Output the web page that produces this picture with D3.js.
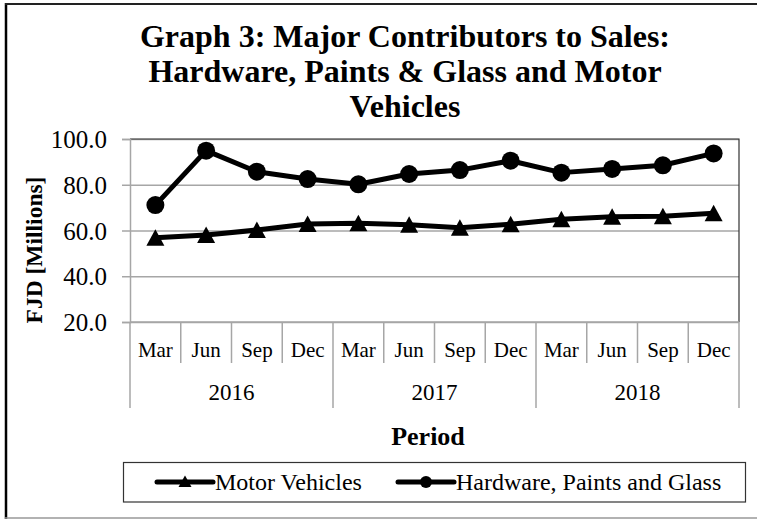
<!DOCTYPE html>
<html>
<head>
<meta charset="utf-8">
<script src="https://cdn.jsdelivr.net/npm/d3@7/dist/d3.min.js"></script>
<style>
  body { margin: 0; background: #fff; }
  text { font-family: "Liberation Serif", "Times New Roman", serif; fill: #000; }
</style>
</head>
<body>
<script>
// chart data
const months = ["Mar", "Jun", "Sep", "Dec"];
const years = ["2016", "2017", "2018"];
const motorVehicles = [56.8, 58.0, 60.2, 62.8, 63.2, 62.5, 61.2, 62.7, 64.9, 66.0, 66.2, 67.5];
const hardwarePaintsGlass = [71.1, 94.9, 85.7, 82.5, 80.2, 84.7, 86.4, 90.5, 85.3, 86.9, 88.5, 93.7];
const yTicks = [20, 40, 60, 80, 100];
const titleLines = ["Graph 3: Major Contributors to Sales:", "Hardware, Paints & Glass and Motor", "Vehicles"];

const W = 757, H = 520;
const plotL = 130, plotR = 739, plotT = 139, plotB = 322;

// period keys like "2016-Mar"
const periods = [];
years.forEach(yr => months.forEach(m => periods.push({ year: yr, month: m, key: yr + "-" + m })));

const series = [
  { name: "Motor Vehicles", values: motorVehicles, marker: "triangle" },
  { name: "Hardware, Paints and Glass", values: hardwarePaintsGlass, marker: "circle" }
];

const svg = d3.select("body").append("svg")
  .attr("width", W)
  .attr("height", H);

// outer frame
svg.append("line").attr("x1", 6).attr("x2", 6).attr("y1", 3).attr("y2", 519)
  .attr("stroke", "#000").attr("stroke-width", 2.5);
svg.append("line").attr("x1", 5).attr("x2", W).attr("y1", 4).attr("y2", 4)
  .attr("stroke", "#222").attr("stroke-width", 2);
svg.append("line").attr("x1", 5).attr("x2", W).attr("y1", 518).attr("y2", 518)
  .attr("stroke", "#999").attr("stroke-width", 1.5);

// title
svg.append("g").selectAll("text")
  .data(titleLines)
  .enter()
  .append("text")
  .attr("x", 405)
  .attr("y", (d, i) => 47 + i * 35)
  .attr("text-anchor", "middle")
  .style("font-size", "32px")
  .style("font-weight", "bold")
  .text(d => d);

const x = d3.scaleBand()
  .domain(periods.map(p => p.key))
  .range([plotL, plotR])
  .paddingInner(0)
  .paddingOuter(0);

const y = d3.scaleLinear()
  .domain([20, 100])
  .range([plotB, plotT]);

// gridlines
svg.append("g")
  .attr("transform", "translate(" + plotL + ",0)")
  .call(d3.axisLeft(y).tickValues(yTicks).tickSize(-(plotR - plotL)).tickFormat(""))
  .call(g => g.select(".domain").remove())
  .call(g => g.selectAll("line").attr("stroke", "#a6a6a6").attr("stroke-width", 1.5));

// plot area border (top & right)
svg.append("path")
  .attr("d", "M" + plotL + "," + plotT + "H" + plotR + "V" + plotB)
  .attr("fill", "none")
  .attr("stroke", "#333")
  .attr("stroke-width", 1.2);

// y axis
const yAxis = svg.append("g")
  .attr("transform", "translate(" + plotL + ",0)")
  .call(d3.axisLeft(y).tickValues(yTicks).tickSize(8).tickPadding(15).tickFormat(d3.format(".1f")));
yAxis.select(".domain").attr("stroke", "#a6a6a6").attr("stroke-width", 1.5);
yAxis.selectAll(".tick line").attr("stroke", "#a6a6a6").attr("stroke-width", 1.5);
yAxis.selectAll(".tick text")
  .attr("dy", "0.34em")
  .style("font-size", "25px")
  .style("font-family", "'Liberation Serif', serif")
  .attr("fill", "#000");

// category axis line
svg.append("line")
  .attr("x1", plotL).attr("x2", plotR)
  .attr("y1", plotB).attr("y2", plotB)
  .attr("stroke", "#a6a6a6").attr("stroke-width", 1.5);

// separators: short between months, long at year boundaries
const bounds = periods.map((p, i) => i).concat([periods.length]);
svg.append("g").selectAll("line")
  .data(bounds)
  .enter()
  .append("line")
  .attr("x1", i => i < periods.length ? x(periods[i].key) : plotR)
  .attr("x2", i => i < periods.length ? x(periods[i].key) : plotR)
  .attr("y1", plotB)
  .attr("y2", i => i % months.length === 0 ? 408 : 363)
  .attr("stroke", "#a6a6a6")
  .attr("stroke-width", 1.5);

// month labels
svg.append("g").selectAll("text")
  .data(periods)
  .enter()
  .append("text")
  .attr("x", p => x(p.key) + x.bandwidth() / 2)
  .attr("y", 357)
  .attr("text-anchor", "middle")
  .style("font-size", "21px")
  .text(p => p.month);

// year labels
svg.append("g").selectAll("text")
  .data(years)
  .enter()
  .append("text")
  .attr("x", yr => {
    const ps = periods.filter(p => p.year === yr);
    return (x(ps[0].key) + x(ps[ps.length - 1].key) + x.bandwidth()) / 2;
  })
  .attr("y", 400)
  .attr("text-anchor", "middle")
  .style("font-size", "23px")
  .text(d => d);

// axis titles
svg.append("text")
  .attr("x", 428)
  .attr("y", 445)
  .attr("text-anchor", "middle")
  .style("font-size", "26px")
  .style("font-weight", "bold")
  .text("Period");

svg.append("text")
  .attr("transform", "translate(42,250) rotate(-90)")
  .attr("text-anchor", "middle")
  .style("font-size", "23.5px")
  .style("font-weight", "bold")
  .text("FJD [Millions]");

// lines + markers
const line = d3.line()
  .x((d, i) => x(periods[i].key) + x.bandwidth() / 2)
  .y(d => y(d));

series.forEach(s => {
  svg.append("path")
    .datum(s.values)
    .attr("d", line)
    .attr("fill", "none")
    .attr("stroke", "#000")
    .attr("stroke-width", 5)
    .attr("stroke-linejoin", "round");

  const pts = svg.append("g").selectAll("g")
    .data(s.values)
    .enter()
    .append("g")
    .attr("transform", (d, i) => "translate(" + (x(periods[i].key) + x.bandwidth() / 2) + "," + y(d) + ")");

  if (s.marker === "circle") {
    pts.append("circle").attr("r", 9).attr("fill", "#000");
  } else {
    pts.append("path").attr("d", "M0,-8.5L9,8L-9,8Z").attr("fill", "#000");
  }
});

// legend
const legend = svg.append("g");
legend.append("rect")
  .attr("x", 123.5).attr("y", 462.5)
  .attr("width", 622).attr("height", 39.5)
  .attr("fill", "#fff")
  .attr("stroke", "#333")
  .attr("stroke-width", 1.2);

const legendItems = [
  { s: series[0], x0: 157 },
  { s: series[1], x0: 398 }
];
legendItems.forEach(it => {
  const g = legend.append("g").attr("transform", "translate(" + it.x0 + ",482)");
  g.append("line")
    .attr("x1", 0).attr("x2", 56)
    .attr("stroke", "#000").attr("stroke-width", 5).attr("stroke-linecap", "round");
  if (it.s.marker === "circle") {
    g.append("circle").attr("cx", 28).attr("r", 6).attr("fill", "#000");
  } else {
    g.append("path").attr("d", "M28,-6.5L34.5,5L21.5,5Z").attr("fill", "#000");
  }
  g.append("text")
    .attr("x", 58)
    .attr("y", 8)
    .style("font-size", "24px")
    .text(it.s.name);
});
</script>
</body>
</html>
